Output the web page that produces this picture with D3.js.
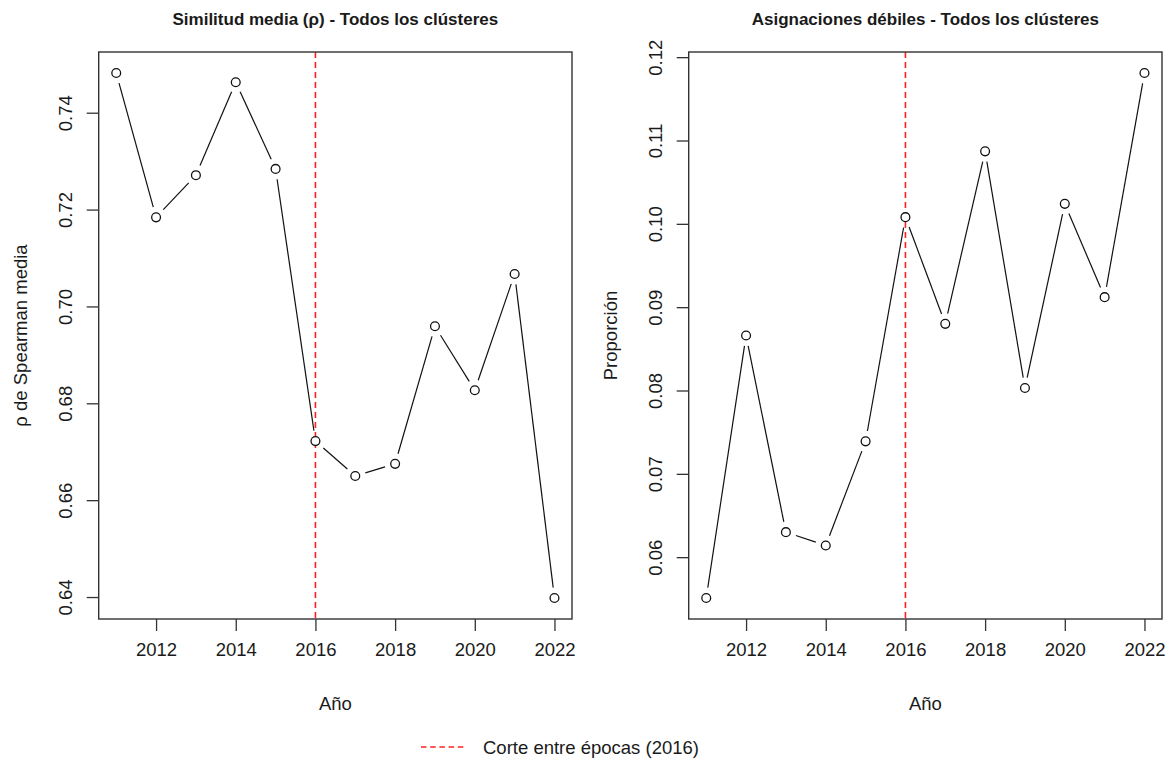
<!DOCTYPE html>
<html><head><meta charset="utf-8">
<script src="https://cdn.jsdelivr.net/npm/d3@7"></script>
<style>
html,body{margin:0;padding:0;background:#fff;}
svg{display:block;font-family:"Liberation Sans",Arial,sans-serif;}
</style></head>
<body>
<svg id="chart" width="1169" height="760"></svg>
<script>
// ---- data ----
const years = [2011, 2012, 2013, 2014, 2015, 2016, 2017, 2018, 2019, 2020, 2021, 2022];
const rhoMean = [0.7482, 0.7184, 0.7271, 0.7463, 0.7284, 0.6722, 0.6650, 0.6675, 0.6959, 0.6827, 0.7067, 0.6398];
const weakShare = [0.0551, 0.0866, 0.0630, 0.0614, 0.0739, 0.1008, 0.0880, 0.1087, 0.0803, 0.1024, 0.0912, 0.1181];
const xTicks = [2012, 2014, 2016, 2018, 2020, 2022];
const rhoTicks = [0.64, 0.66, 0.68, 0.70, 0.72, 0.74];
const weakTicks = [0.06, 0.07, 0.08, 0.09, 0.10, 0.11, 0.12];
const cutYear = 2016;
const titles = ["Similitud media (\u03c1) - Todos los cl\u00fasteres", "Asignaciones d\u00e9biles - Todos los cl\u00fasteres"];
const yLabels = ["\u03c1 de Spearman media", "Proporci\u00f3n"];
const xLabel = "A\u00f1o";
const legendLabel = "Corte entre \u00e9pocas (2016)";

const svg = d3.select("#chart");
const ink = "#1a1a1a";

function padDomain(vals) {
  const [a, b] = d3.extent(vals);
  const p = (b - a) * 0.04;
  return [a - p, b + p];
}

function panel(opts) {
  const {left, right, top, bottom, values, yTicks, fmt, title, ylab} = opts;
  const g = svg.append("g");
  const x = d3.scaleLinear().domain(padDomain(years)).range([left, right]);
  const y = d3.scaleLinear().domain(padDomain(values)).range([bottom, top]);

  // title
  g.append("text").attr("x", (left + right) / 2).attr("y", 25)
    .attr("text-anchor", "middle").attr("font-weight", "bold").attr("font-size", 17)
    .attr("fill", ink).text(title);

  // cut line
  g.append("line").attr("x1", x(cutYear)).attr("x2", x(cutYear))
    .attr("y1", top).attr("y2", bottom)
    .attr("stroke", "#ff2020").attr("stroke-width", 1.6).attr("stroke-dasharray", "6,4");

  // x axis
  const xa = g.append("g").attr("transform", `translate(0,${bottom})`)
    .call(d3.axisBottom(x).tickValues(xTicks).tickFormat(d3.format("d")).tickSize(12).tickPadding(6));
  xa.select(".domain").remove();
  xa.selectAll(".tick line").attr("stroke", "#333").attr("stroke-width", 1.3);
  xa.selectAll(".tick text").attr("font-size", 18.5).attr("fill", ink)
    .attr("font-family", "Liberation Sans, Arial, sans-serif").attr("dy", "1em");

  // y axis
  const ya = g.append("g").attr("transform", `translate(${left},0)`)
    .call(d3.axisLeft(y).tickValues(yTicks).tickFormat(fmt).tickSize(12).tickPadding(0));
  ya.select(".domain").remove();
  ya.selectAll(".tick line").attr("stroke", "#333").attr("stroke-width", 1.3);
  ya.selectAll(".tick text").remove();
  ya.selectAll(".tick").append("text")
    .attr("transform", `translate(${-27},0) rotate(-90)`)
    .attr("text-anchor", "middle").attr("font-size", 18.5).attr("fill", ink)
    .attr("font-family", "Liberation Sans, Arial, sans-serif")
    .text(d => fmt(d));

  // box
  g.append("rect").attr("x", left).attr("y", top)
    .attr("width", right - left).attr("height", bottom - top)
    .attr("fill", "none").attr("stroke", "#333").attr("stroke-width", 1.4);

  // axis labels
  g.append("text").attr("x", (left + right) / 2).attr("y", 710)
    .attr("text-anchor", "middle").attr("font-size", 18.5).attr("fill", ink).text(xLabel);
  g.append("text").attr("transform", `translate(${left - 72},${(top + bottom) / 2}) rotate(-90)`)
    .attr("text-anchor", "middle").attr("font-size", 18.5).attr("fill", ink).text(ylab);

  // line with gaps (type = "b")
  const pts = years.map((yr, i) => [x(yr), y(values[i])]);
  const gap = 10.5;
  const segs = [];
  for (let i = 0; i < pts.length - 1; i++) {
    const [x1, y1] = pts[i], [x2, y2] = pts[i + 1];
    const L = Math.hypot(x2 - x1, y2 - y1);
    if (L > 2 * gap) {
      const ux = (x2 - x1) / L, uy = (y2 - y1) / L;
      segs.push([x1 + ux * gap, y1 + uy * gap, x2 - ux * gap, y2 - uy * gap]);
    }
  }
  g.append("g").selectAll("line").data(segs).join("line")
    .attr("x1", d => d[0]).attr("y1", d => d[1]).attr("x2", d => d[2]).attr("y2", d => d[3])
    .attr("stroke", "#111").attr("stroke-width", 1.2);
  g.append("g").selectAll("circle").data(pts).join("circle")
    .attr("cx", d => d[0]).attr("cy", d => d[1]).attr("r", 4.4)
    .attr("fill", "#fff").attr("stroke", "#111").attr("stroke-width", 1.3);
}

panel({left: 98.7, right: 572, top: 52, bottom: 619, values: rhoMean, yTicks: rhoTicks,
       fmt: d3.format(".2f"), title: titles[0], ylab: yLabels[0]});
panel({left: 688.7, right: 1162, top: 52, bottom: 619, values: weakShare, yTicks: weakTicks,
       fmt: d3.format(".2f"), title: titles[1], ylab: yLabels[1]});

// legend
const lg = svg.append("g");
lg.append("line").attr("x1", 421).attr("x2", 465).attr("y1", 747).attr("y2", 747)
  .attr("stroke", "#ff2020").attr("stroke-width", 1.5).attr("stroke-dasharray", "5.5,3.7");
lg.append("text").attr("x", 483).attr("y", 754).attr("font-size", 18.5).attr("fill", ink).text(legendLabel);
</script>
</body></html>
